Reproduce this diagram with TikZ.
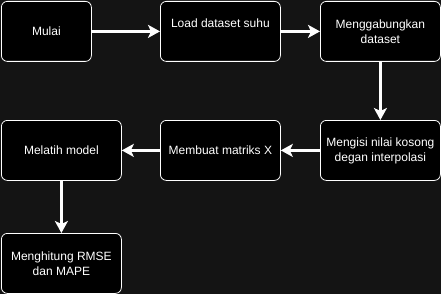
\documentclass[tikz,border=0pt]{standalone}
\usepackage{fontspec}
\setmainfont{Liberation Sans}
\usetikzlibrary{arrows.meta}
\begin{document}
\begin{tikzpicture}[x=1pt,y=-1pt,
  stepbox/.style={draw=white,fill=black,rounded corners=6pt,line width=0.8pt,
    minimum width=#1,minimum height=60pt,inner sep=0pt,anchor=north west},
  stepbox/.default=120pt,
  lbl/.style={text=white,font=\fontsize{12}{15}\selectfont,align=center},
  flow/.style={draw=white,line width=2.6pt,-{Stealth[length=12pt,width=13pt,inset=3pt]}}]
  % canvas
  \fill[fill={rgb,255:red,20;green,20;blue,20}] (0,0) rectangle (441,294);
  \useasboundingbox (0,0) rectangle (441,294);
  % steps
  \node[stepbox=90pt]  (mulai) at (1,1) {};
  \node[stepbox]       (load)  at (160,1) {};
  \node[stepbox]       (gabung) at (320,1) {};
  \node[stepbox]       (isi)   at (320,120) {};
  \node[stepbox]       (matx)  at (160,120) {};
  \node[stepbox]       (latih) at (1,120) {};
  \node[stepbox]       (hitung) at (1,233) {};
  % labels
  \node[lbl] at (mulai.center) {Mulai};
  \node[lbl] at ([yshift=8pt]load.center) {Load dataset suhu};
  \node[lbl] at (gabung.center) {Menggabungkan\\dataset};
  \node[lbl] at (isi.center) {Mengisi nilai kosong\\degan interpolasi};
  \node[lbl] at (matx.center) {Membuat matriks X};
  \node[lbl] at (latih.center) {Melatih model};
  \node[lbl] at (hitung.center) {Menghitung RMSE\\dan MAPE};
  % connectors
  \draw[flow] (mulai.east) -- (load.west);
  \draw[flow] (load.east) -- (gabung.west);
  \draw[flow] (gabung.south) -- (isi.north);
  \draw[flow] (isi.west) -- (matx.east);
  \draw[flow] (matx.west) -- (latih.east);
  \draw[flow] (latih.south) -- (hitung.north);
\end{tikzpicture}
\end{document}
